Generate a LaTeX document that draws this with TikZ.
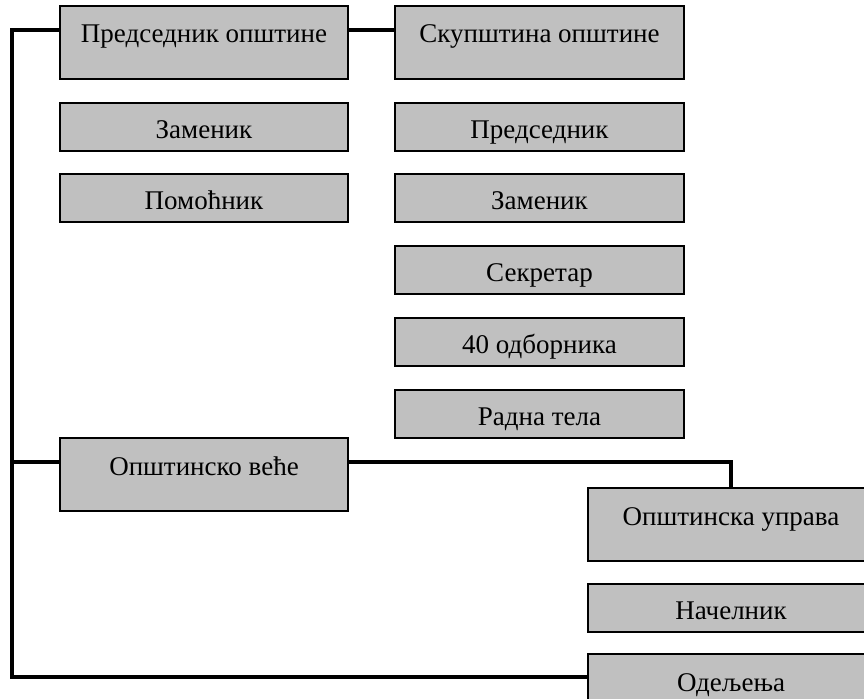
\documentclass[tikz,border=0pt]{standalone}
\usepackage{fontspec}
\setmainfont{Liberation Serif}
\definecolor{boxgray}{HTML}{C0C0C0}
\begin{document}
\begin{tikzpicture}[x=0.75pt,y=-0.75pt,
  box/.style={draw=black, fill=boxgray, line width=1.5pt, inner sep=0pt, anchor=north west,
    font=\fontsize{20.25}{24}\selectfont},
  tall/.style={minimum height=54.75pt, text height=27.75pt, text depth=27pt},
  short/.style={minimum height=36pt, text height=26.25pt, text depth=9.75pt},
  lw/.style={minimum width=216pt},
  rw/.style={minimum width=216.75pt},
  bw/.style={minimum width=214.5pt},
  conn/.style={draw=black, line width=2.6pt, miter limit=10}]
\useasboundingbox (0,0) rectangle (864,699);
\clip (0,0) rectangle (864,699);
\fill[white] (0,0) rectangle (864,699);
% left column
\node[box,tall,lw] (pres) at (59,5) {Председник општине};
\node[box,short,lw] (zam1) at (59,102) {Заменик};
\node[box,short,lw] (pom) at (59,173) {Помоћник};
\node[box,tall,lw] (vece) at (59,437) {Општинско веће};
% right column
\node[box,tall,rw] (skup) at (394,5) {Скупштина општине};
\node[box,short,rw] (pred2) at (394,102) {Председник};
\node[box,short,rw] (zam2) at (394,173) {Заменик};
\node[box,short,rw] (sek) at (394,245) {Секретар};
\node[box,short,rw] (odb) at (394,317) {40 одборника};
\node[box,short,rw] (radna) at (394,389) {Радна тела};
% bottom right
\node[box,tall,bw] (uprava) at (587,487) {Општинска управа};
\node[box,short,bw] (nac) at (587,583) {Начелник};
\node[box,tall,bw] (odel) at (587,653) {Одељења};
% connectors
\coordinate (c1) at (12,30);
\coordinate (c2) at (12,462);
\coordinate (c3) at (12,677);
\draw[conn] (c1 -| pres.west) -- (c1) -- (c3) -- (c3 -| odel.west);
\draw[conn] (c1 -| pres.east) -- (c1 -| skup.west);
\draw[conn] (c2) -- (c2 -| vece.west);
\draw[conn] (c2 -| vece.east) -| (uprava.north);
\end{tikzpicture}
\end{document}
